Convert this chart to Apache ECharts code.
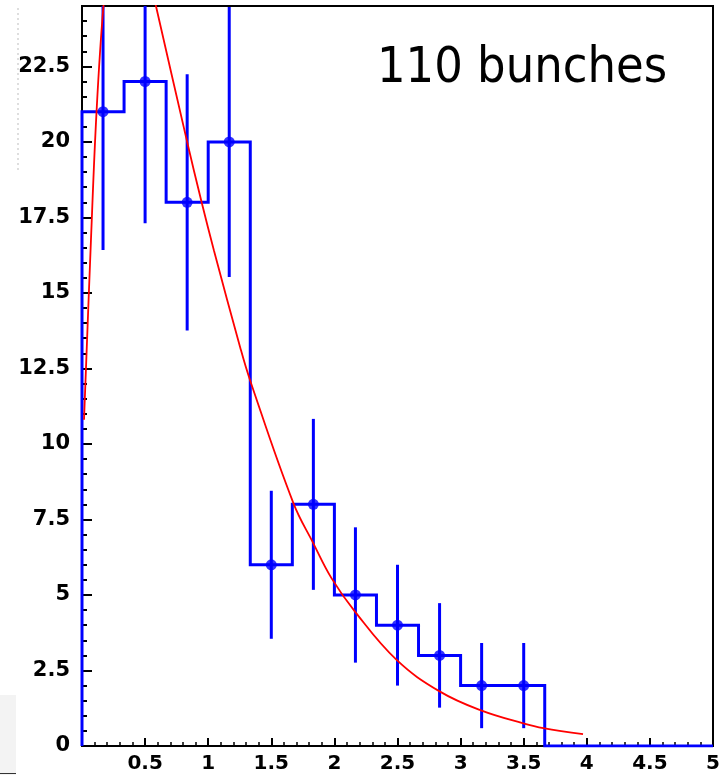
<!DOCTYPE html>
<html>
<head>
<meta charset="utf-8">
<script src="https://cdn.jsdelivr.net/npm/echarts@6/dist/echarts.min.js"></script>
<style>
  html, body { margin: 0; padding: 0; background: #ffffff; }
  #chart { width: 727px; height: 775px; }
</style>
</head>
<body>
<div id="chart"></div>
<script>
// Histogram: 15 equal bins spanning the x range
const histRange = [0, 5];
const counts = [21, 22, 18, 20, 6, 8, 5, 4, 3, 2, 2, 0, 0, 0, 0];
const countErrors = [4.58, 4.69, 4.24, 4.47, 2.45, 2.83, 2.24, 2.0, 1.73, 1.41, 1.41, 0, 0, 0, 0];

// Fitted curve, sampled along x (the peak runs above the frame and is clipped)
const fitX = [0.016, 0.071, 0.116, 0.17, 0.22, 0.30, 0.40, 0.50, 0.586, 0.83, 0.948, 1.046,
              1.252, 1.331, 1.675, 1.833, 1.978, 2.163, 2.493, 2.837, 3.167, 3.497, 3.656, 3.97];
const fitY = [10.8, 16.75, 21.06, 24.5, 26.2, 27.4, 27.3, 26.1, 24.5, 20.06, 18.0, 16.4,
              13.22, 12.12, 8.04, 6.71, 5.55, 4.45, 2.85, 1.80, 1.17, 0.75, 0.59, 0.39];

// Axis scales
const xAxisRange = [0, 5];
const xMajorStep = 0.5;
const yAxisRange = [0, 24.5];
const yMajorStep = 2.5;
const yMinorStep = 0.5;

const titleText = '110 bunches';

const nBins = counts.length;
const binWidth = (histRange[1] - histRange[0]) / nBins;

// Outline of the histogram: rises at the first edge, steps across every bin
const outline = [[histRange[0], 0]];
counts.forEach((c, i) => {
  const lo = histRange[0] + i * binWidth;
  const hi = lo + binWidth;
  outline.push([lo, c], [hi, c]);
});

// Points with error bars for the filled bins
const points = [];
const errorBars = [];
counts.forEach((c, i) => {
  if (c <= 0) return;
  const xc = histRange[0] + (i + 0.5) * binWidth;
  points.push([xc, c]);
  errorBars.push([xc, c - countErrors[i], c + countErrors[i]]);
});

const fitLine = fitX.map((x, i) => [x, fitY[i]]);

const BLUE = '#0000ff';
const RED = '#ff0000';

const labelFont = {
  fontFamily: 'DejaVu Sans',
  fontWeight: 'bold',
  color: '#000'
};

const chart = echarts.init(document.getElementById('chart'), null, { renderer: 'canvas' });

chart.setOption({
  animation: false,
  backgroundColor: '#ffffff',
  grid: {
    left: 82, right: 14, top: 6, bottom: 29,
    show: true, borderColor: '#000', borderWidth: 2
  },
  xAxis: {
    type: 'value',
    min: xAxisRange[0], max: xAxisRange[1], interval: xMajorStep,
    axisLine: { onZero: false, lineStyle: { color: '#000', width: 2 } },
    axisTick: { inside: true, length: 8, lineStyle: { color: '#000', width: 2 } },
    minorTick: { show: true, splitNumber: 5, length: 4, lineStyle: { color: '#000', width: 1.5 } },
    splitLine: { show: false },
    axisLabel: Object.assign({
      fontSize: 20, margin: 8,
      formatter: v => (v === 0 ? '' : String(v))
    }, labelFont)
  },
  yAxis: [
    {
      type: 'value',
      min: yAxisRange[0], max: yAxisRange[1], interval: yMajorStep,
      axisLine: { show: true, onZero: false, lineStyle: { color: '#000', width: 2 } },
      axisTick: { show: true, inside: true, length: 10, lineStyle: { color: '#000', width: 2 } },
      splitLine: { show: false },
      axisLabel: Object.assign({ fontSize: 21, margin: 12, showMaxLabel: false }, labelFont)
    },
    {
      type: 'value',
      position: 'left',
      min: yAxisRange[0], max: yAxisRange[1], interval: yMinorStep,
      axisLine: { show: false },
      axisTick: { show: true, inside: true, length: 5, lineStyle: { color: '#000', width: 2 } },
      splitLine: { show: false },
      axisLabel: { show: false }
    }
  ],
  series: [
    {
      name: 'histogram',
      type: 'line',
      data: outline,
      symbol: 'none',
      clip: true,
      lineStyle: { color: BLUE, width: 3, join: 'miter' },
      z: 3
    },
    {
      name: 'errors',
      type: 'custom',
      clip: true,
      data: errorBars,
      renderItem: (params, api) => {
        const top = api.coord([api.value(0), api.value(2)]);
        const bottom = api.coord([api.value(0), api.value(1)]);
        return {
          type: 'line',
          shape: { x1: top[0], y1: top[1], x2: bottom[0], y2: bottom[1] },
          style: { stroke: BLUE, lineWidth: 3 }
        };
      },
      z: 4
    },
    {
      name: 'points',
      type: 'scatter',
      data: points,
      symbol: 'circle',
      symbolSize: 11,
      itemStyle: { color: BLUE },
      z: 5
    },
    {
      name: 'fit',
      type: 'line',
      data: fitLine,
      symbol: 'none',
      smooth: 0.4,
      clip: true,
      lineStyle: { color: RED, width: 1.8 },
      z: 6
    }
  ],
  graphic: [
    {
      type: 'text',
      left: 377, top: 44,
      style: {
        text: titleText,
        font: '50px "DejaVu Sans Condensed", "Liberation Sans", Arial, sans-serif',
        fill: '#000'
      },
      z: 10
    },
    {
      type: 'line',
      shape: { x1: 18, y1: 8, x2: 18, y2: 173 },
      style: { stroke: '#bdbdbd', lineWidth: 1, lineDash: [2, 3] },
      z: 1
    },
    {
      type: 'rect',
      shape: { x: 0, y: 695, width: 16, height: 80 },
      style: { fill: '#f3f3f3' },
      z: 0
    },
    {
      type: 'line',
      shape: { x1: 0, y1: 773.5, x2: 16, y2: 773.5 },
      style: { stroke: '#333', lineWidth: 1 },
      z: 1
    }
  ]
});
</script>
</body>
</html>
